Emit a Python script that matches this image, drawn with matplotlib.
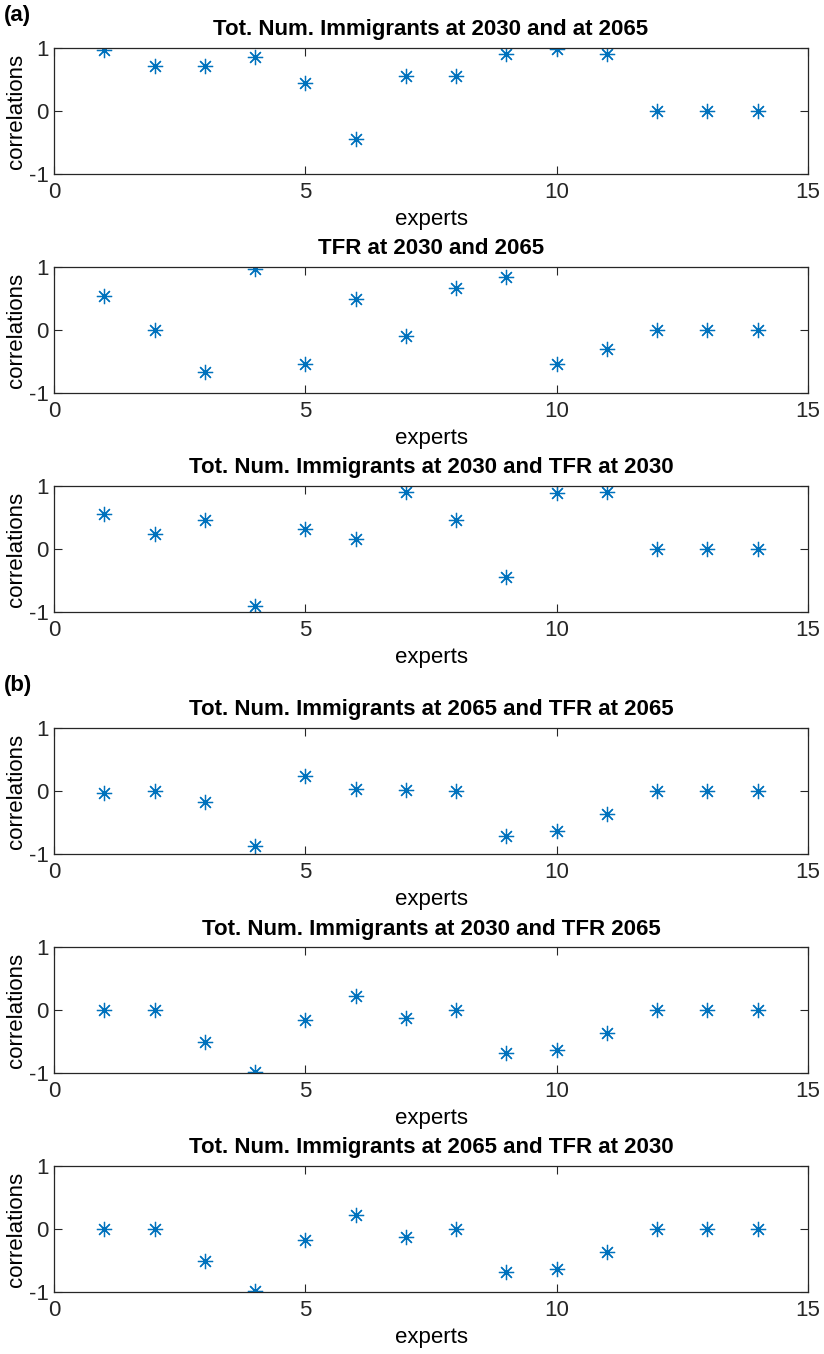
import numpy as np
import matplotlib
matplotlib.use("Agg")
import matplotlib.pyplot as plt

plt.rcParams['font.family'] = ['Liberation Sans', 'DejaVu Sans']
plt.rcParams['axes.unicode_minus'] = False

# experten 1..14
experts = np.arange(1, 15)

# (a)
imm2030_imm2065 = [0.97, 0.71, 0.71, 0.85, 0.45, -0.45, 0.56, 0.56, 0.90, 0.98, 0.90, 0.0, 0.0, 0.0]
tfr2030_tfr2065 = [0.54, 0.0, -0.66, 0.97, -0.54, 0.50, -0.10, 0.67, 0.84, -0.54, -0.30, 0.0, 0.0, 0.0]
imm2030_tfr2030 = [0.56, 0.24, 0.46, -0.90, 0.31, 0.16, 0.90, 0.46, -0.45, 0.89, 0.90, 0.0, 0.0, 0.0]
# (b)
imm2065_tfr2065 = [-0.03, 0.0, -0.17, -0.87, 0.24, 0.03, 0.01, 0.0, -0.72, -0.63, -0.36, 0.0, 0.0, 0.0]
imm2030_tfr2065 = [0.0, 0.0, -0.50, -0.98, -0.16, 0.23, -0.12, 0.0, -0.68, -0.63, -0.37, 0.0, 0.0, 0.0]
imm2065_tfr2030 = [0.0, 0.0, -0.50, -0.98, -0.17, 0.23, -0.12, 0.0, -0.69, -0.63, -0.36, 0.0, 0.0, 0.0]

titles = ['Tot. Num. Immigrants at 2030 and at 2065',
          'TFR at 2030 and 2065',
          'Tot. Num. Immigrants at 2030 and TFR at 2030',
          'Tot. Num. Immigrants at 2065 and TFR at 2065',
          'Tot. Num. Immigrants at 2030 and TFR 2065',
          'Tot. Num. Immigrants at 2065 and TFR at 2030']
series = [imm2030_imm2065, tfr2030_tfr2065, imm2030_tfr2030,
          imm2065_tfr2065, imm2030_tfr2065, imm2065_tfr2030]

W, H = 824, 1354
fig = plt.figure(figsize=(W / 100, H / 100), dpi=100)

# obere Kanten der Achsen in Pixeln
tops = [48, 267, 486, 728, 947, 1166]
ax_h = 126
left, right = 54, 808
blue = '#0072BD'

for top, t, vals in zip(tops, titles, series):
    ax = fig.add_axes([left / W, 1 - (top + ax_h) / H, (right - left) / W, ax_h / H])
    ax.plot(experts, vals, linestyle='none', marker=(8, 2, 0),
            markersize=11, markeredgewidth=0.9, color=blue)
    ax.set_xlim(0, 15)
    ax.set_ylim(-1, 1)
    ax.set_xticks([0, 5, 10, 15])
    ax.set_yticks([-1, 0, 1])
    ax.tick_params(direction='in', length=5.5, width=0.8, top=True, right=True,
                   labelsize=16, pad=6, colors='0.15')
    ax.tick_params(axis='y', pad=4)
    for s in ax.spines.values():
        s.set_color('0.15')
        s.set_linewidth(0.9)
    ax.set_title(t, fontsize=16, fontweight='bold', pad=9)
    ax.set_xlabel('experts', fontsize=16, labelpad=4)
    ax.set_ylabel('correlations', fontsize=16, labelpad=1)

fig.text(4 / W, 1 - 15 / H, '(a)', fontsize=16, fontweight='bold', va='center', ha='left')
fig.text(4 / W, 1 - 685 / H, '(b)', fontsize=16, fontweight='bold', va='center', ha='left')

fig.savefig('out.png', dpi=100)
